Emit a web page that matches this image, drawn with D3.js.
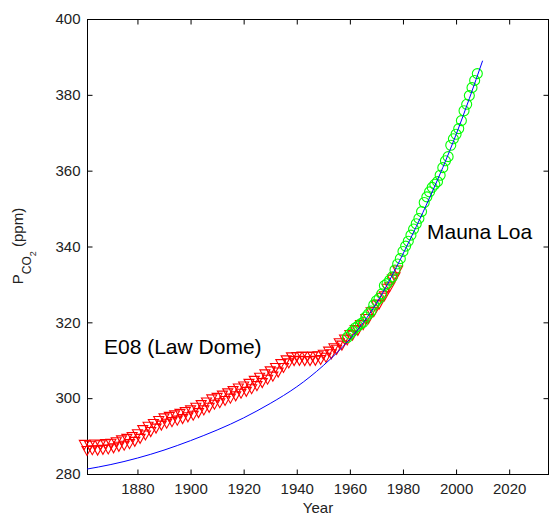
<!DOCTYPE html>
<html>
<head>
<meta charset="utf-8">
<script src="https://cdn.jsdelivr.net/npm/d3@7/dist/d3.min.js"></script>
<style>
  body { margin: 0; background: #fff; }
  text { font-family: Arial, "Liberation Sans", sans-serif; }
</style>
</head>
<body>
<div id="chart"></div>
<script>
// Law Dome (E08) ice core, one value per year
const lawYears = d3.range(1860, 1979);
const lawValues = [
  287.8, 286.2, 287.6, 286.4, 287.9, 286.3, 287.7, 286.5, 288.0, 286.6,
  288.1, 286.9, 288.5, 287.3, 289.0, 287.6, 289.4, 288.0, 289.9, 288.6,
  290.6, 289.4, 291.7, 290.3, 292.6, 291.2, 293.3, 292.1, 294.1, 292.9,
  294.8, 293.4, 295.2, 293.8, 295.6, 294.2, 296.0, 294.6, 296.5, 295.1,
  296.9, 295.5, 297.6, 296.2, 298.3, 296.9, 299.0, 297.6, 299.8, 298.4,
  300.2, 298.8, 300.8, 299.4, 301.4, 300.0, 302.0, 300.6, 302.7, 301.3,
  303.2, 301.8, 303.9, 302.5, 304.7, 303.3, 305.5, 304.1, 306.4, 305.0,
  307.2, 305.8, 308.1, 306.9, 309.1, 308.1, 310.1, 309.3, 310.9, 309.9,
  311.0, 310.0, 311.1, 309.9, 311.0, 309.9, 311.1, 310.0, 311.2, 310.2,
  311.6, 310.8, 312.4, 311.7, 313.3, 312.9, 314.6, 314.0, 315.6, 315.4,
  316.8, 316.6, 318.1, 317.9, 319.4, 319.4, 321.0, 321.0, 322.8, 322.8,
  324.6, 324.8, 326.6, 327.0, 329.0, 329.4, 331.4, 332.0, 333.8
];

// Mauna Loa, annual means
const mloYears = d3.range(1959, 2009);
const mloValues = [
  316.0, 316.9, 317.6, 318.5, 319.0, 319.6, 320.0, 321.4, 322.2, 323.0,
  324.6, 325.7, 326.3, 327.5, 329.7, 330.2, 331.1, 332.0, 333.8, 335.4,
  336.8, 338.7, 340.1, 341.4, 343.0, 344.6, 346.0, 347.4, 349.2, 351.6,
  353.1, 354.4, 355.6, 356.4, 357.1, 358.8, 360.8, 362.6, 363.7, 366.7,
  368.4, 369.6, 371.1, 373.2, 375.8, 377.5, 379.8, 381.9, 383.8, 385.6
];

// fitted curve
const fitYears = [1861, 1870, 1880, 1890, 1900, 1910, 1920, 1930, 1940, 1950, 1960, 1970, 1980, 1990, 2000, 2010];
const fitValues = [281.3, 282.5, 284.2, 286.3, 288.8, 291.6, 294.8, 298.6, 303.0, 308.6, 315.6, 325.0, 338.0, 352.8, 369.5, 389.0];

const xTicks = [1880, 1900, 1920, 1940, 1960, 1980, 2000, 2020];
const yTicks = [280, 300, 320, 340, 360, 380, 400];

const W = 550, H = 519;
const plotLeft = 87, plotRight = 549, plotTop = 19, plotBottom = 474;

const svg = d3.select('#chart').append('svg')
    .attr('width', W)
    .attr('height', H);

const x = d3.scaleLinear().domain([1861, 2035]).range([plotLeft, plotRight]);
const y = d3.scaleLinear().domain([280, 400]).range([plotBottom, plotTop]);

// frame
svg.append('rect')
    .attr('x', plotLeft + 0.5)
    .attr('y', plotTop + 0.5)
    .attr('width', plotRight - plotLeft - 1)
    .attr('height', plotBottom - plotTop)
    .attr('fill', 'none')
    .attr('stroke', '#000')
    .attr('stroke-width', 1);

function styleAxis(g, labels) {
    g.select('.domain').remove();
    g.selectAll('.tick line').attr('stroke', '#000');
    g.selectAll('.tick text')
        .attr('fill', labels ? '#222' : 'none')
        .style('font-size', '15px')
        .style('font-family', 'Arial, "Liberation Sans", sans-serif');
}

svg.append('g')
    .attr('transform', `translate(0,${plotBottom + 0.5})`)
    .call(d3.axisBottom(x).tickValues(xTicks).tickFormat(d3.format('d'))
        .tickSizeInner(-5).tickSizeOuter(0).tickPadding(9))
    .call(g => styleAxis(g, true));

svg.append('g')
    .attr('transform', `translate(0,${plotTop + 0.5})`)
    .call(d3.axisTop(x).tickValues(xTicks).tickFormat('')
        .tickSizeInner(-5).tickSizeOuter(0))
    .call(g => styleAxis(g, false));

svg.append('g')
    .attr('transform', `translate(${plotLeft + 0.5},0)`)
    .call(d3.axisLeft(y).tickValues(yTicks).tickFormat(d3.format('d'))
        .tickSizeInner(-5).tickSizeOuter(0).tickPadding(7))
    .call(g => styleAxis(g, true));

svg.append('g')
    .attr('transform', `translate(${plotRight - 0.5},0)`)
    .call(d3.axisRight(y).tickValues(yTicks).tickFormat('')
        .tickSizeInner(-5).tickSizeOuter(0))
    .call(g => styleAxis(g, false));

// Law Dome: downward triangles
const tri = 'M-5,-4L5,-4L0,5Z';
svg.append('g')
    .selectAll('path')
    .data(lawYears.map((d, i) => [d, lawValues[i]]))
    .join('path')
    .attr('d', tri)
    .attr('transform', d => `translate(${x(d[0])},${y(d[1])})`)
    .attr('fill', 'none')
    .attr('stroke', '#ff0000')
    .attr('stroke-width', 1.1);

// Mauna Loa: circles
svg.append('g')
    .selectAll('circle')
    .data(mloYears.map((d, i) => [d, mloValues[i]]))
    .join('circle')
    .attr('cx', d => x(d[0]))
    .attr('cy', d => y(d[1]))
    .attr('r', 5)
    .attr('fill', 'none')
    .attr('stroke', '#00ff00')
    .attr('stroke-width', 1.1);

// fit
const line = d3.line()
    .x(d => x(d[0]))
    .y(d => y(d[1]))
    .curve(d3.curveNatural);

svg.append('path')
    .datum(fitYears.map((d, i) => [d, fitValues[i]]))
    .attr('d', line)
    .attr('fill', 'none')
    .attr('stroke', '#0000ff')
    .attr('stroke-width', 1);

// labels
svg.append('text')
    .attr('x', 104)
    .attr('y', 354)
    .style('font-size', '21px')
    .attr('fill', '#000')
    .text('E08 (Law Dome)');

svg.append('text')
    .attr('x', 427)
    .attr('y', 239)
    .style('font-size', '21px')
    .attr('fill', '#000')
    .text('Mauna Loa');

svg.append('text')
    .attr('x', (plotLeft + plotRight) / 2)
    .attr('y', 513)
    .attr('text-anchor', 'middle')
    .style('font-size', '15px')
    .attr('fill', '#222')
    .text('Year');

const ylab = svg.append('text')
    .attr('transform', 'translate(23,246) rotate(-90)')
    .attr('text-anchor', 'middle')
    .style('font-size', '15px')
    .attr('fill', '#222');
ylab.append('tspan').text('P');
ylab.append('tspan').attr('dy', 8).style('font-size', '12px').text('CO');
ylab.append('tspan').attr('dy', 5).style('font-size', '9px').text('2');
ylab.append('tspan').attr('dy', -13).text(' (ppm)');
</script>
</body>
</html>
